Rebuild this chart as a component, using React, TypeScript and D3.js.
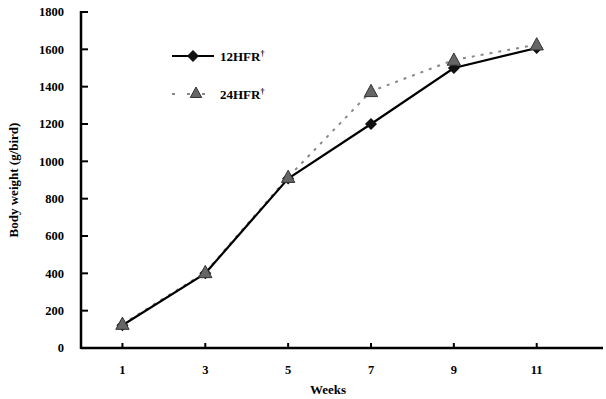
import React from "react";
import * as d3 from "d3";

const weeks = [1, 3, 5, 7, 9, 11];
const hfr12 = [122, 400, 908, 1200, 1500, 1607];
const hfr24 = [128, 405, 915, 1375, 1543, 1625];
const yTicks = [0, 200, 400, 600, 800, 1000, 1200, 1400, 1600, 1800];
const seriesNames = ["12HFR", "24HFR"];

const W = 606, H = 399;
const left = 81, right = 603, top = 12, bottom = 348;
const font = "'Liberation Serif', 'Times New Roman', serif";

export default function App() {
  const x = d3.scaleLinear().domain([0, 12.6]).range([left, right]);
  const y = d3.scaleLinear().domain([0, 1800]).range([bottom, top]);
  const line = d3.line<[number, number]>().x(d => x(d[0])).y(d => y(d[1]));
  const d12 = line(weeks.map((w, i) => [w, hfr12[i]]));
  const d24 = line(weeks.map((w, i) => [w, hfr24[i]]));
  const diamond = (cx: number, cy: number, r: number) =>
    `M${cx},${cy - r}L${cx + r},${cy}L${cx},${cy + r}L${cx - r},${cy}Z`;
  const tri = (cx: number, cy: number, r: number) =>
    `M${cx},${cy - r}L${cx + r * 0.95},${cy + r * 0.75}L${cx - r * 0.95},${cy + r * 0.75}Z`;

  return (
    <svg width={W} height={H} style={{ position: "absolute", left: 0, top: 0, background: "#fff" }}>
      {/* axes */}
      <line x1={left} x2={left} y1={top - 1} y2={bottom + 1} stroke="#000" strokeWidth={2.5} />
      <line x1={left} x2={right} y1={bottom} y2={bottom} stroke="#000" strokeWidth={2.5} />
      {yTicks.map(t => (
        <g key={t}>
          {t > 0 && <line x1={left} x2={left + 7} y1={y(t)} y2={y(t)} stroke="#000" strokeWidth={2} />}
          <text x={64} y={y(t)} dy="0.35em" textAnchor="end" fontFamily={font} fontWeight="bold" fontSize={12.5}>{t}</text>
        </g>
      ))}
      {weeks.map(w => (
        <g key={w}>
          <line x1={x(w)} x2={x(w)} y1={bottom} y2={bottom - 5} stroke="#000" strokeWidth={2} />
          <text x={x(w)} y={374} textAnchor="middle" fontFamily={font} fontWeight="bold" fontSize={12.5}>{w}</text>
        </g>
      ))}
      <text x={328} y={394} textAnchor="middle" fontFamily={font} fontWeight="bold" fontSize={13}>Weeks</text>
      <text transform={`translate(18,${y(900)}) rotate(-90)`} textAnchor="middle" fontFamily={font} fontWeight="bold" fontSize={13}>Body weight (g/bird)</text>

      {/* series */}
      <path d={d24 || ""} fill="none" stroke="#888" strokeWidth={2} strokeDasharray="3,6" />
      <path d={d12 || ""} fill="none" stroke="#000" strokeWidth={2.2} />
      {weeks.map((w, i) => (
        <path key={"d" + w} d={diamond(x(w), y(hfr12[i]), 6)} fill="#111" />
      ))}
      {weeks.map((w, i) => (
        <path key={"t" + w} d={tri(x(w), y(hfr24[i]), 7)} fill="#666" stroke="#333" strokeWidth={1} />
      ))}

      {/* legend */}
      <line x1={172} x2={214} y1={56} y2={56} stroke="#000" strokeWidth={2.2} />
      <path d={diamond(193, 56, 6)} fill="#111" />
      <text x={220} y={61} fontFamily={font} fontWeight="bold" fontSize={13}>{seriesNames[0]}<tspan dy={-5} fontSize={8}>†</tspan></text>
      <line x1={172} x2={214} y1={94} y2={94} stroke="#888" strokeWidth={2} strokeDasharray="3,12" />
      <path d={tri(196, 93, 6)} fill="#666" stroke="#333" strokeWidth={1} />
      <text x={220} y={99} fontFamily={font} fontWeight="bold" fontSize={13}>{seriesNames[1]}<tspan dy={-5} fontSize={8}>†</tspan></text>
    </svg>
  );
}
